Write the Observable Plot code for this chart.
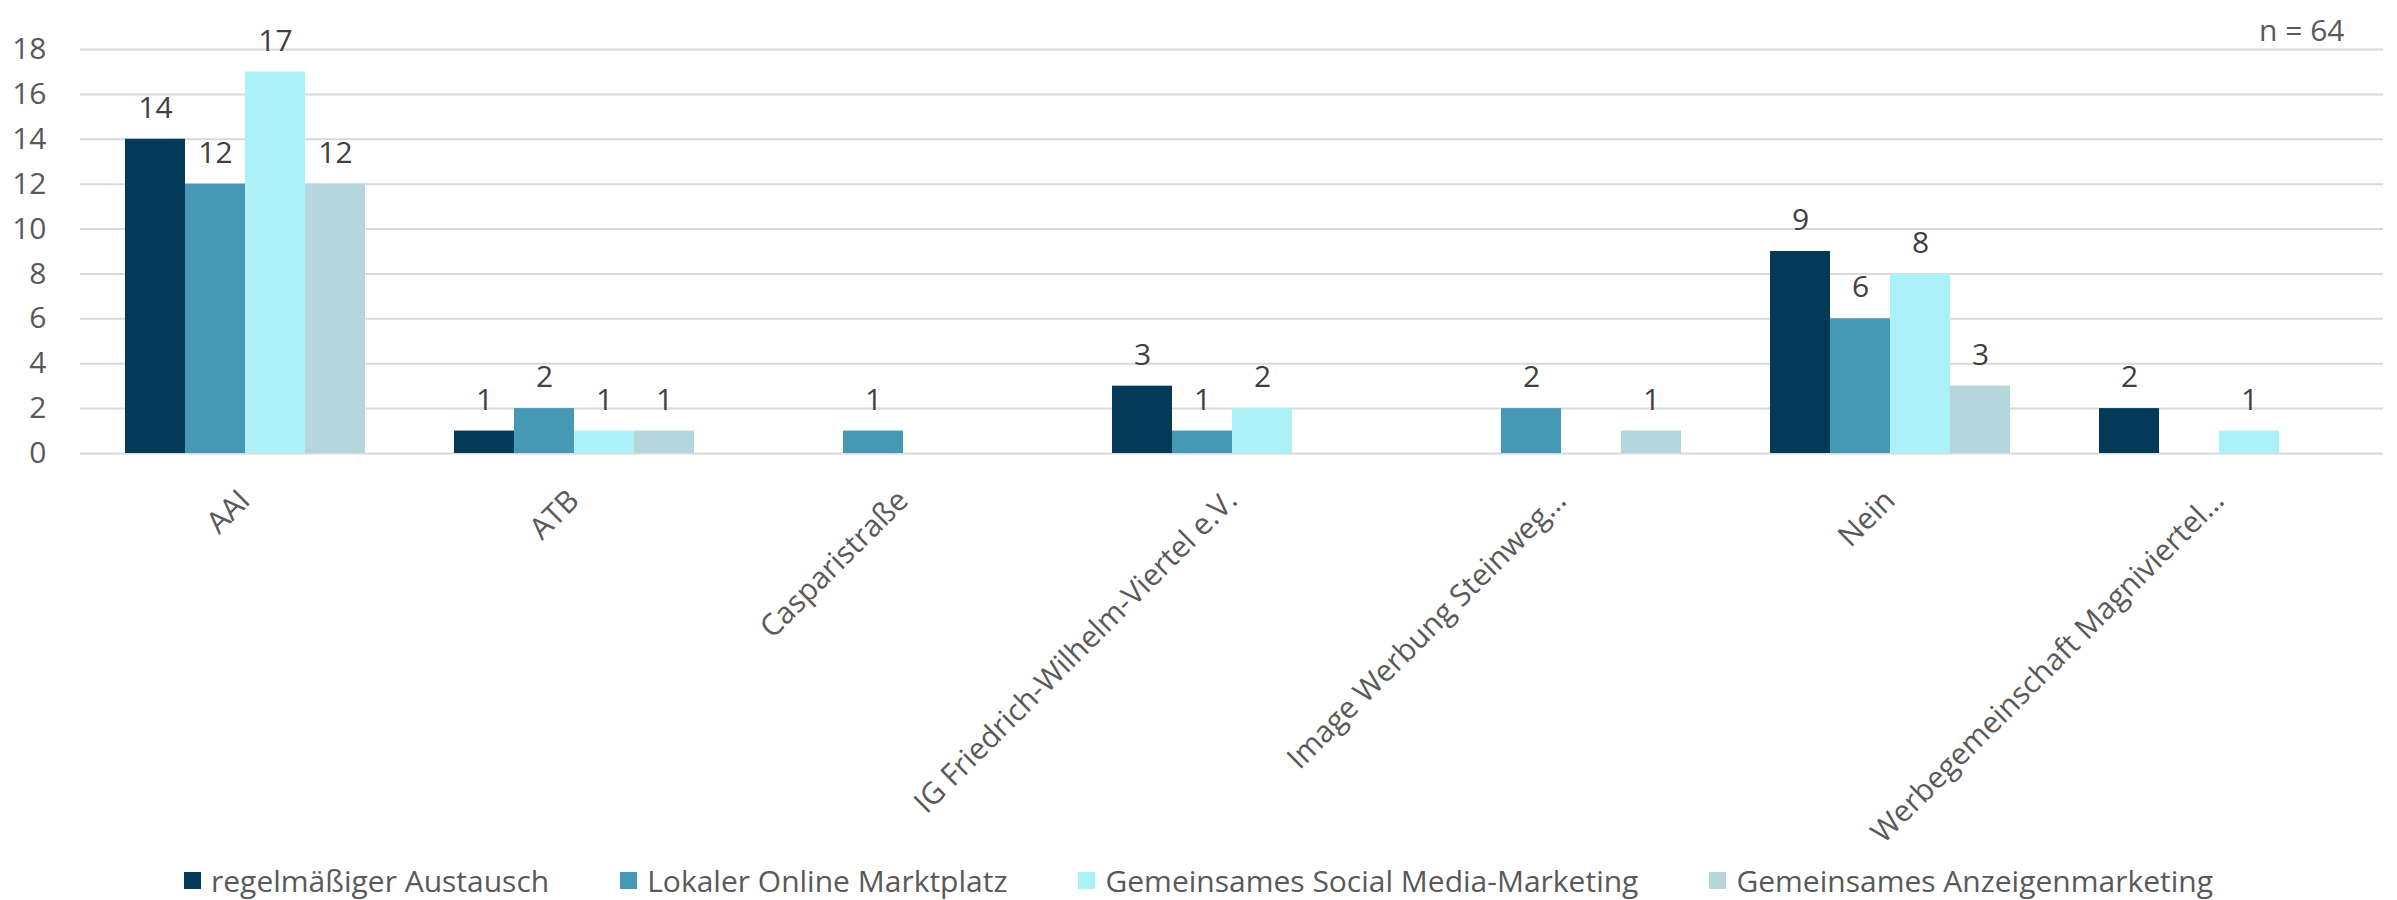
<!DOCTYPE html>
<html>
<head>
<meta charset="utf-8">
<script src="https://cdn.jsdelivr.net/npm/d3@7"></script>
<script src="https://cdn.jsdelivr.net/npm/@observablehq/plot@0.6"></script>
<style>
  html, body { margin: 0; padding: 0; background: #fff; }
  body { width: 2397px; font-family: "Open Sans", sans-serif; }
  #legend { display: flex; justify-content: center; align-items: center; gap: 71px; height: 40px; font-size: 30px; color: #595959; }
  .item { display: flex; align-items: center; }
  .sw { width: 17px; height: 17px; margin-right: 10px; }
</style>
</head>
<body>
<div id="chart"></div>
<div id="legend"></div>
<script>
const categories = ["AAI", "ATB", "Casparistraße", "IG Friedrich-Wilhelm-Viertel e.V.", "Image Werbung Steinweg…", "Nein", "Werbegemeinschaft Magniviertel…"];
const series = ["regelmäßiger Austausch", "Lokaler Online Marktplatz", "Gemeinsames Social Media-Marketing", "Gemeinsames Anzeigenmarketing"];
const austausch   = [14, 1, 0, 3, 0, 9, 2];
const marktplatz  = [12, 2, 1, 1, 2, 6, 0];
const socialMedia = [17, 1, 0, 2, 0, 8, 1];
const anzeigen    = [12, 1, 0, 0, 1, 3, 0];
const colors = ["#033A57", "#4698B5", "#ABF1F7", "#B5D6DB"];
const yTicks = [0, 2, 4, 6, 8, 10, 12, 14, 16, 18];
const note = "n = 64";

const seriesValues = [austausch, marktplatz, socialMedia, anzeigen];
const data = categories.flatMap((c, i) => series.map((s, j) => ({category: c, series: s, value: seriesValues[j][i]})))
  .filter(d => d.value > 0);

const chart = Plot.plot({
  width: 2397,
  height: 860,
  marginLeft: 79,
  marginRight: 14,
  marginTop: 49,
  marginBottom: 407,
  style: {fontFamily: "Open Sans", fontSize: "30px", color: "#595959", background: "white"},
  fx: {domain: categories, padding: 0, axis: "bottom", tickRotate: -45, tickSize: 0, tickPadding: 42, label: null},
  x: {domain: series, paddingInner: 0, paddingOuter: 0.74, axis: null},
  y: {domain: [0, 18], ticks: yTicks, tickSize: 0, tickPadding: 34, label: null},
  color: {domain: series, range: colors},
  marks: [
    Plot.ruleY(yTicks, {stroke: "#d9d9d9", strokeWidth: 2}),
    Plot.barY(data, {fx: "category", x: "series", y: "value", fill: "series"}),
    Plot.text(data, {fx: "category", x: "series", y: "value", text: d => String(d.value), dy: -31, fill: "#404040", fontSize: 30}),
    Plot.text([note], {fx: [categories[categories.length - 1]], frameAnchor: "top-right", text: d => d, dx: -39, dy: -30, fill: "#595959", fontSize: 30, textAnchor: "end"})
  ]
});
document.getElementById("chart").appendChild(chart);

const legend = document.getElementById("legend");
series.forEach((s, i) => {
  const item = document.createElement("div");
  item.className = "item";
  const sw = document.createElement("span");
  sw.className = "sw";
  sw.style.background = colors[i];
  const t = document.createElement("span");
  t.textContent = s;
  item.appendChild(sw);
  item.appendChild(t);
  legend.appendChild(item);
});
</script>
</body>
</html>
